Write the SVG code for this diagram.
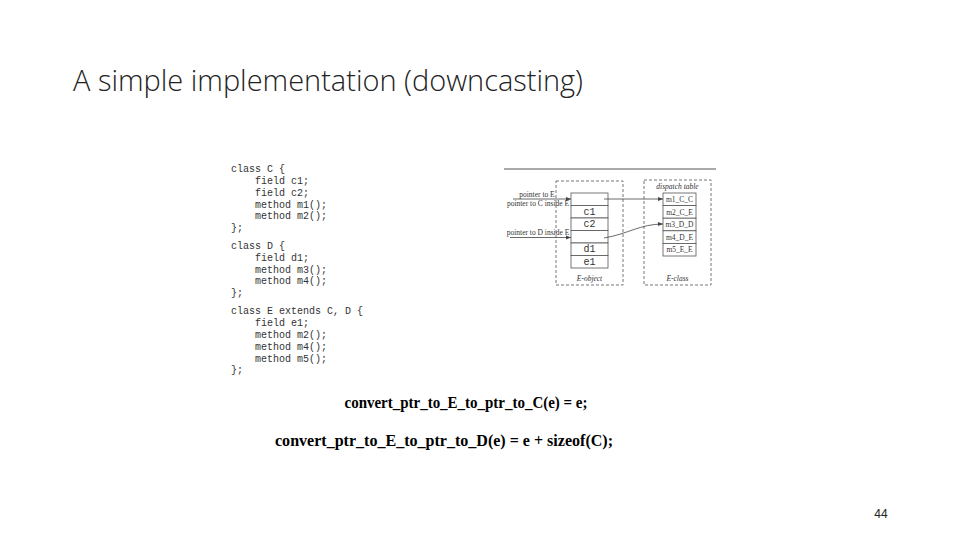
<svg xmlns="http://www.w3.org/2000/svg" width="960" height="540" viewBox="0 0 960 540">
<style>
.code{font-family:"Liberation Mono","DejaVu Sans Mono",monospace;font-size:10px;fill:#333}
.small{font-family:"Liberation Serif","DejaVu Serif",serif;font-size:7.5px;fill:#333}
.it{font-family:"Liberation Serif","DejaVu Serif",serif;font-size:7.5px;font-style:italic;fill:#333}
.cell{fill:#fff;stroke:#555;stroke-width:0.8}
.dash{fill:none;stroke:#666;stroke-width:0.9;stroke-dasharray:3,2}
.conn{fill:none;stroke:#444;stroke-width:0.8}
.f{font-family:"Liberation Serif","Times New Roman",serif;font-size:17px;font-weight:bold;fill:#000}
</style>
<defs>
<marker id="ah" viewBox="0 0 10 10" refX="10" refY="5" markerWidth="6" markerHeight="5" orient="auto" markerUnits="userSpaceOnUse">
<path d="M0,1 L10,5 L0,9 z" fill="#444"/>
</marker>
</defs>
<rect width="960" height="540" fill="#fff"/>
<text id="title" x="73" y="91" font-family="'Open Sans','Liberation Sans',sans-serif" font-weight="300" font-size="30" fill="#222" textLength="510" lengthAdjust="spacingAndGlyphs">A simple implementation (downcasting)</text>
<g id="code">
<text class="code" x="231" y="172">class C {</text>
<text class="code" x="255" y="184">field c1;</text>
<text class="code" x="255" y="196">field c2;</text>
<text class="code" x="255" y="208">method m1();</text>
<text class="code" x="255" y="219">method m2();</text>
<text class="code" x="231" y="231">};</text>
<text class="code" x="231" y="249">class D {</text>
<text class="code" x="255" y="261">field d1;</text>
<text class="code" x="255" y="273">method m3();</text>
<text class="code" x="255" y="284">method m4();</text>
<text class="code" x="231" y="296">};</text>
<text class="code" x="231" y="314">class E extends C, D {</text>
<text class="code" x="255" y="326">field e1;</text>
<text class="code" x="255" y="338">method m2();</text>
<text class="code" x="255" y="350">method m4();</text>
<text class="code" x="255" y="362">method m5();</text>
<text class="code" x="231" y="373">};</text>
</g>
<line x1="504" y1="169" x2="716" y2="169" stroke="#555" stroke-width="1"/>
<g id="e-object">
<rect class="dash" x="556" y="181" width="67" height="104"/>
<rect class="cell" x="571" y="193" width="37" height="12.5"/>
<rect class="cell" x="571" y="205.5" width="37" height="12.5"/>
<rect class="cell" x="571" y="218" width="37" height="12.5"/>
<rect class="cell" x="571" y="230.5" width="37" height="12.5"/>
<rect class="cell" x="571" y="243" width="37" height="12.5"/>
<rect class="cell" x="571" y="255.5" width="37" height="12.5"/>
<text class="code" x="589.5" y="214.5" text-anchor="middle" font-size="8">c1</text>
<text class="code" x="589.5" y="227" text-anchor="middle" font-size="8">c2</text>
<text class="code" x="589.5" y="252" text-anchor="middle" font-size="8">d1</text>
<text class="code" x="589.5" y="264.5" text-anchor="middle" font-size="8">e1</text>
<text class="it" x="589.5" y="281" text-anchor="middle">E-object</text>
</g>
<g id="e-class">
<rect class="dash" x="644" y="180" width="67" height="105"/>
<text class="it" x="677.5" y="189" text-anchor="middle">dispatch table</text>
<rect class="cell" x="663" y="193" width="33" height="12.6"/>
<rect class="cell" x="663" y="205.6" width="33" height="12.6"/>
<rect class="cell" x="663" y="218.2" width="33" height="12.6"/>
<rect class="cell" x="663" y="230.8" width="33" height="12.6"/>
<rect class="cell" x="663" y="243.4" width="33" height="12.6"/>
<text class="small" x="679.5" y="202" text-anchor="middle">m1_C_C</text>
<text class="small" x="679.5" y="214.6" text-anchor="middle">m2_C_E</text>
<text class="small" x="679.5" y="227.2" text-anchor="middle">m3_D_D</text>
<text class="small" x="679.5" y="239.8" text-anchor="middle">m4_D_E</text>
<text class="small" x="679.5" y="252.4" text-anchor="middle">m5_E_E</text>
<text class="it" x="677.5" y="281" text-anchor="middle">E-class</text>
</g>
<g id="pointer-labels">
<text class="small" x="537" y="196.5" text-anchor="middle">pointer to E</text>
<text class="small" x="538" y="206" text-anchor="middle">pointer to C inside E</text>
<text class="small" x="538" y="235" text-anchor="middle">pointer to D inside E</text>
</g>
<g id="connectors">
<line class="conn" x1="513" y1="199" x2="571" y2="199" marker-end="url(#ah)"/>
<line class="conn" x1="510" y1="237.5" x2="571" y2="237.5" marker-end="url(#ah)"/>
<line class="conn" x1="604" y1="199" x2="663" y2="199" marker-end="url(#ah)"/>
<path class="conn" d="M604,238 C628,234 640,224 663,224" marker-end="url(#ah)"/>
</g>
<text id="f1" class="f" x="466" y="408" text-anchor="middle" textLength="243" lengthAdjust="spacingAndGlyphs">convert_ptr_to_E_to_ptr_to_C(e) = e;</text>
<text id="f2" class="f" x="444" y="446" text-anchor="middle" textLength="338" lengthAdjust="spacingAndGlyphs">convert_ptr_to_E_to_ptr_to_D(e) = e + sizeof(C);</text>
<text id="page" x="881" y="518" text-anchor="middle" font-family="'Liberation Sans',Arial,sans-serif" font-size="12" fill="#222">44</text>
</svg>
